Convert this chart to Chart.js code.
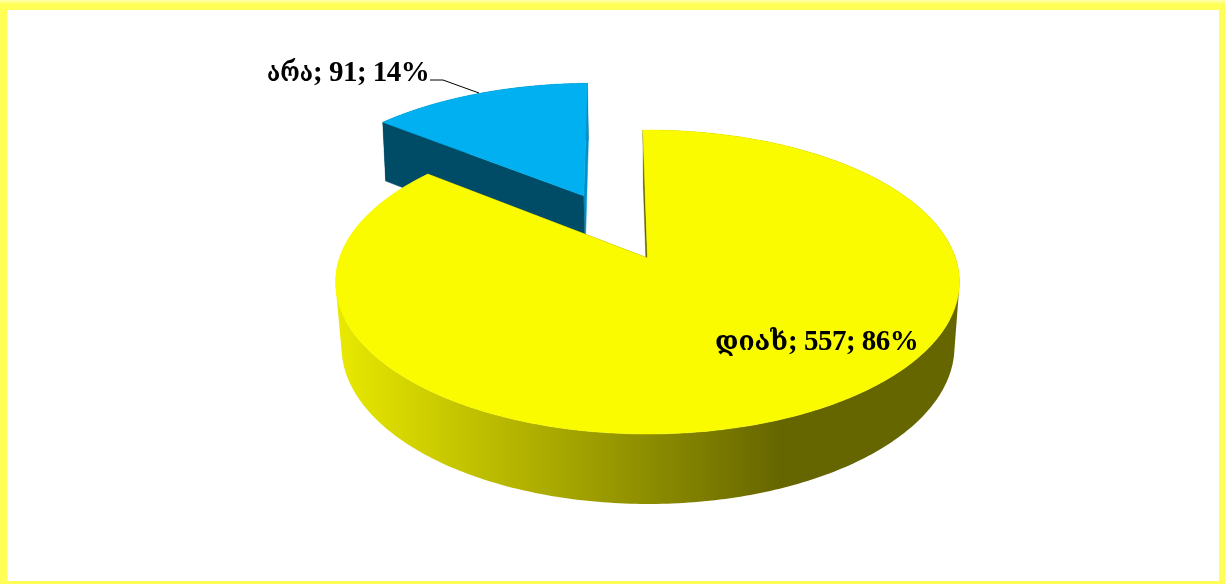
<!DOCTYPE html>
<html><head><meta charset="utf-8">
<style>html,body{margin:0;padding:0;background:#fff;overflow:hidden}#w{position:absolute;left:0;top:0;width:1225px;height:584px}canvas{display:block}</style>
<script src="https://cdn.jsdelivr.net/npm/chart.js@4"></script></head>
<body><div id="w"><canvas id="c" width="1225" height="584"></canvas></div>
<script>
const categories = ['დიახ', 'არა'];
const values = [557, 91];
const percents = [86, 14];
const sliceColors = ['#fbfb00', '#00b0f0'];
const sideColors = ['#666600', '#004b66'];

// perspective projection of the unit pie disc: top face and bottom face
const TOP = {cx:647.5, y0:258, R:308, b:148.2, k:0.158};
const BOT = {cx:648, y0:323, R:303, b:153.8, k:0.15};
function proj(P,u,v){const w=1-P.k*v;return [P.cx+P.R*u/w, P.y0+P.b*v/w];}

function arcGeom(el){
  const p=el.getProps(['startAngle','endAngle','outerRadius']);
  const mid=(p.startAngle+p.endAngle)/2, d=el.options.offset/p.outerRadius;
  return {a0:p.startAngle,a1:p.endAngle,ox:d*Math.cos(mid),oy:d*Math.sin(mid)};
}
function facePoints(P,g,n){
  const pts=[proj(P,g.ox,g.oy)];
  for(let i=0;i<=n;i++){const a=g.a0+(g.a1-g.a0)*i/n;pts.push(proj(P,g.ox+Math.cos(a),g.oy+Math.sin(a)));}
  return pts;
}
function poly(ctx,pts,fill,strokeW){
  ctx.beginPath();pts.forEach((q,i)=>i?ctx.lineTo(q[0],q[1]):ctx.moveTo(q[0],q[1]));ctx.closePath();
  ctx.fillStyle=fill;ctx.fill();
  if(strokeW){ctx.strokeStyle=fill;ctx.lineWidth=strokeW;ctx.stroke();}
}
function area(q){let s=0;for(let i=0;i<q.length;i++){const a=q[i],b=q[(i+1)%q.length];s+=a[0]*b[1]-b[0]*a[1];}return s;}
function drawSlice(ctx,el,rimFill,startWall,endWall){
  const g=arcGeom(el), n=360;
  const T=facePoints(TOP,g,n), B=facePoints(BOT,g,n);
  // rim: union of consistently wound quads, filled once so no seams show
  ctx.beginPath();
  for(let i=1;i<=n;i++){
    let q=[T[i],T[i+1],B[i+1],B[i]];
    if(area(q)<0) q=q.reverse();
    q.forEach((p,j)=>j?ctx.lineTo(p[0],p[1]):ctx.moveTo(p[0],p[1]));ctx.closePath();
  }
  ctx.fillStyle=rimFill;ctx.fill('nonzero');
  // radial walls
  poly(ctx,[T[0],T[n+1],B[n+1],B[0]],endWall,0.4);
  poly(ctx,[T[0],T[1],B[1],B[0]],startWall,0.4);
  return T;
}
function drawLabel(ctx,i,x,splitX,y){
  ctx.letterSpacing='0px';
  ctx.font='bold 27px "DejaVu Serif",serif';
  ctx.fillText(categories[i],x,y,splitX-x);
  ctx.font='bold 29px "Liberation Serif",serif';
  ctx.letterSpacing='-0.5px';
  ctx.fillText('; '+values[i]+'; '+percents[i]+'%',splitX,y);
  ctx.letterSpacing='0px';
}
const pie3d = {
  id:'pie3d',
  beforeDraw(chart){
    const ctx=chart.ctx,W=chart.width,H=chart.height;
    ctx.save();
    ctx.fillStyle='#fff';ctx.fillRect(0,0,W,H);
    ctx.fillStyle='#ffff55';
    ctx.fillRect(0,0,7.5,H);ctx.fillRect(W-6,0,6,H);ctx.fillRect(0,H-3,W,3);
    const t=ctx.createLinearGradient(0,0,0,10);
    t.addColorStop(0,'#ffffb0');t.addColorStop(.45,'#ffff55');t.addColorStop(1,'#ffff55');
    ctx.fillStyle=t;ctx.fillRect(0,0,W,10);
    ctx.restore();
  },
  beforeDatasetDraw(chart){
    const ctx=chart.ctx, arcs=chart.getDatasetMeta(0).data;
    ctx.save();
    const grad=ctx.createLinearGradient(340,0,780,0);
    grad.addColorStop(0,'#e8e800');grad.addColorStop(1,'#666600');
    const Tb=drawSlice(ctx,arcs[1],sideColors[1],sideColors[1],'#0090c8');
    poly(ctx,Tb,arcs[1].options.backgroundColor,0.5);
    const Ty=drawSlice(ctx,arcs[0],grad,sideColors[0],sideColors[0]);
    poly(ctx,Ty,arcs[0].options.backgroundColor,0.5);
    // data labels
    ctx.fillStyle='#000';ctx.textBaseline='alphabetic';ctx.textAlign='left';
    drawLabel(ctx,1,267,313,80.5);
    drawLabel(ctx,0,715,788,350);
    ctx.strokeStyle='#000';ctx.lineWidth=1;
    ctx.beginPath();ctx.moveTo(430,80);ctx.lineTo(443,80);ctx.lineTo(479,93);ctx.stroke();
    ctx.restore();
    return false;
  }
};
new Chart(document.getElementById('c'),{
  type:'pie',
  data:{labels:categories,datasets:[{data:values,backgroundColor:sliceColors,borderWidth:0,offset:[0,117],hoverOffset:0}]},
  options:{responsive:false,animation:false,rotation:-1,events:[],
    layout:{padding:0},
    plugins:{legend:{display:false},tooltip:{enabled:false},title:{display:false}}},
  plugins:[pie3d]
});
</script></body></html>
